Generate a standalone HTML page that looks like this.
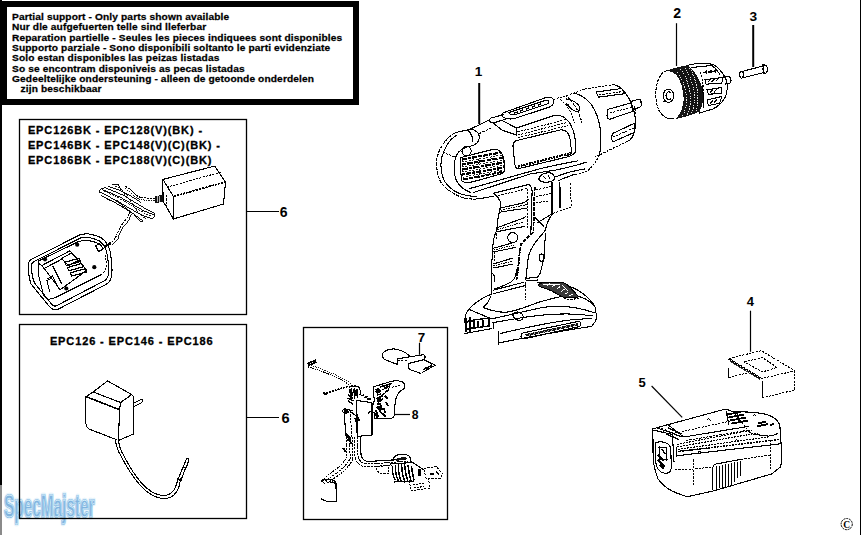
<!DOCTYPE html>
<html><head><meta charset="utf-8">
<style>
html,body{margin:0;padding:0;background:#fff;width:861px;height:535px;overflow:hidden}
svg{display:block}
text{font-family:"Liberation Sans",sans-serif;font-weight:bold;fill:#000}
.t1{font-size:9.6px;letter-spacing:0.12px;stroke:#000;stroke-width:0.25px}
.t2{font-size:11px;letter-spacing:0.88px;stroke:#000;stroke-width:0.3px}
.lb{font-size:12.5px}
.k{fill:none;stroke:#000;stroke-width:1.1;stroke-linejoin:round;stroke-linecap:round}
.kd{fill:none;stroke:#000;stroke-width:1;stroke-dasharray:2.2 1.2}
.k2{fill:none;stroke:#000;stroke-width:1.6;stroke-linejoin:round;stroke-linecap:round}
.f{fill:#fff;stroke:#000;stroke-width:1.1;stroke-linejoin:round}
.dk{fill:#222;stroke:#000;stroke-width:1}
</style></head><body>
<svg width="861" height="535" viewBox="0 0 861 535">
<!-- left edge line -->
<rect x="0" y="0" width="2" height="485" fill="#000"/>
<rect x="0" y="485" width="2" height="50" fill="#8a8a8a"/>
<rect x="860" y="0" width="1" height="535" fill="#000"/>
<!-- watermark -->
<g style="font-size:31px;font-weight:bold;letter-spacing:0;opacity:0.9">
<text x="4" y="517.3" textLength="90.5" lengthAdjust="spacingAndGlyphs" style="fill:none;stroke:#e3f2fb;stroke-width:4.5;stroke-linejoin:round">SpecMajster</text>
<text x="4" y="517.3" textLength="90.5" lengthAdjust="spacingAndGlyphs" style="fill:#74acdc;stroke:#74acdc;stroke-width:2;stroke-linejoin:round">SpecMajster</text>
<text x="4" y="517.3" textLength="90.5" lengthAdjust="spacingAndGlyphs" style="fill:none;stroke:#d8f1fc;stroke-width:0.8">SpecMajster</text>
</g>
<!-- top notice box -->
<rect x="0" y="1" width="359" height="104" fill="#000"/>
<rect x="7" y="7" width="346" height="92" fill="#fff"/>
<g class="t1" transform="scale(1.06,1)">
<text x="11.32" y="19.9">Partial support - Only parts shown available</text>
<text x="11.32" y="30.3">Nur dle aufgefuerten telle sind lleferbar</text>
<text x="11.32" y="40.6">Reparation partielle - Seules les pieces indiquees sont disponibles</text>
<text x="11.32" y="51.0">Supporto parziale - Sono disponibili soltanto le parti evidenziate</text>
<text x="11.32" y="61.3">Solo estan disponibles las peizas listadas</text>
<text x="11.32" y="71.7">So se encontram disponiveis as pecas listadas</text>
<text x="11.32" y="82.0">Gedeeltelijke ondersteuning - alleen de getoonde onderdelen</text>
<text x="19.43" y="92.4">zijn beschikbaar</text>
</g>
<!-- box 2 -->
<rect x="19.5" y="119.5" width="227" height="195" fill="none" stroke="#000" stroke-width="1.3"/>
<g class="t2">
<text x="27.9" y="133.5">EPC126BK - EPC128(V)(BK) -</text>
<text x="27.9" y="148.5">EPC146BK - EPC148(V)(C)(BK) -</text>
<text x="27.9" y="163.5">EPC186BK - EPC188(V)(C)(BK)</text>
</g>
<!-- box 3 -->
<rect x="19.5" y="324.5" width="227" height="194" fill="none" stroke="#000" stroke-width="1.3"/>
<text class="t2" x="49.9" y="344.6">EPC126 - EPC146 - EPC186</text>
<!-- wiring box -->
<rect x="303.5" y="327.5" width="144" height="192" fill="none" stroke="#000" stroke-width="1.3"/>
<!-- leaders -->
<g stroke="#000" stroke-width="1.2" fill="none">
<line x1="246.5" y1="211.5" x2="279" y2="211.5"/>
<line x1="246.5" y1="417.5" x2="279" y2="417.5"/>
<line x1="479.2" y1="83" x2="479.2" y2="124" stroke-width="2"/>
<line x1="676.5" y1="23.2" x2="676.5" y2="66"/>
<line x1="753.2" y1="25" x2="753.2" y2="67" stroke-width="2"/>
<line x1="419.5" y1="342.7" x2="419.5" y2="354.8"/>
<line x1="394.3" y1="414.5" x2="410" y2="414.5"/>
<line x1="750.5" y1="310.7" x2="750.5" y2="351.8"/>
<line x1="651.6" y1="386" x2="682.2" y2="417.4"/>
</g>
<g style="text-anchor:middle">
<text x="283.6" y="217.4" font-size="14">6</text>
<text x="285.6" y="422.8" font-size="14.6">6</text>
<text x="478.6" y="75.7" font-size="13.6">1</text>
<text x="677.1" y="17.7" font-size="14.1">2</text>
<text x="753.2" y="20.9" font-size="13.7">3</text>
<text x="750.3" y="305.6" font-size="13">4</text>
<text x="642" y="386.8" font-size="13">5</text>
<text x="421.6" y="341.7" font-size="13.4">7</text>
<text x="415.1" y="418.8" font-size="12.2">8</text>
</g>
<!-- copyright -->
<circle cx="846.7" cy="524.1" r="5.6" fill="none" stroke="#000" stroke-width="1" stroke-dasharray="2 0.8"/>
<text x="843.2" y="527.8" style="font-size:9.5px;font-weight:bold;font-family:'Liberation Serif',serif">C</text>

<!-- DRAWINGS -->
<g id="drawings" shape-rendering="crispEdges">
<g id="drill">
<!-- rear cap outer -->
<path d="M455,133 C447,137 439.5,147 437,158 C435.8,168 437.5,177 442,184 C447,190 456,196 466,198.5 L476,199.5" fill="none" stroke="#000" stroke-width="1.1" stroke-dasharray="3.5 1"/>
<path class="k" d="M456,135.5 C450,139 444.5,148 441.5,158 C440,168 441.5,176 445,182 C450,189 458,194 466.4,195.4 L477,196.9"/>
<!-- ring top band -->
<path class="k" d="M456,132.5 L470,129.3 C476,129.5 479.5,133 479.3,137.5 C479,142 476,145 471,146 C465,147 459.5,150 456.5,155 C453.5,162 453.5,172 455.5,178.5 C458,185 463,189.5 470.5,192.5"/>
<path class="k" d="M467.5,130 C471,133 473,137 473,142"/>
<path class="kd" d="M443,152.4 L455,157"/>
<!-- bulb -->
<circle class="k" cx="466.6" cy="151.2" r="4.6"/>
<!-- body top lines -->
<path class="k" d="M470,129.3 L489.6,119.8"/>
<path class="kd" d="M479.5,133.5 L492,127.5"/>
<!-- platform -->
<path class="k" d="M489.6,119.8 C489,121.5 490.5,122.5 492,122.2 L502.4,130.3 L516.4,135 L516.4,128 L554.7,115.2"/>
<path class="k" d="M489.6,119.8 C490,118 492,117.5 494,117.3 L503.6,114.6"/>
<path class="k" d="M494,122.8 L506,119 M516.4,128 L503,121"/>
<!-- top switch rounded rect -->
<path class="k" d="M504,112.5 L546,97.5 C551,96 555,98.5 553.5,103 C552.5,106 550,107 548,107.6 L515,118.3 C510,119.8 503,118.5 502,115.5 C501.6,114 502.5,113 504,112.5 Z"/>
<path class="k" d="M509,112.5 L545,100.5 C548,99.8 550,101.5 548.5,103.6 L516,114.3 C512,115.2 508.5,114.2 509,112.5 Z"/>
<path d="M520,111 l3,-1 M526,109 l3,-1 M532,107 l3,-1 M538,105 l3,-1 M514,113 l4,-1" stroke="#000" stroke-width="1.6"/>
<!-- body top line to collar -->
<path class="kd" d="M553.5,99.5 L573,93.5 L585,89"/>
<!-- window (side recess) -->
<path class="k" d="M554.7,115.2 C560,114.5 565,117 569,122 C572.5,127 574.5,134 575.5,141 C576,146 575.5,150 575,153 C573,155 571,156 567,157 L519,168.5 C516.5,169 515,167 514.8,164 L513,146 C513,143 514.5,141 517,140.5"/>
<path class="kd" d="M517.5,132 L566,119.5 M518,135 L567,122.5 M518,137.8 L568,125.5"/>
<path class="k" d="M517,140.5 L560,130 C566,129 569,133 570,139 L571.5,151 C571.5,154 569.5,155 567,155.5"/>
<path d="M518,166.5 L572,153" stroke="#000" stroke-width="2.2" stroke-dasharray="2 0.8" fill="none"/>
<!-- grille -->
<path class="k" d="M460.5,157.6 C470,155.5 485,151 494.5,149.2 C498,149 500.5,151 502.5,155 C504.5,160 505,166 504.6,170.2 C504,172 503,173 502.1,173.6 C492,176.5 480,180 471.8,182 C466,183 463,182.5 461.5,180.5 C460.5,172 460.3,164 460.5,157.6 Z"/>
<g stroke="#000" fill="none">
<path d="M462,159.5 L501,152.5" stroke-width="2.2" stroke-dasharray="5 1.5 3 1"/>
<path d="M462,164.5 L503.5,157.5" stroke-width="2.2" stroke-dasharray="4 1 6 1.5"/>
<path d="M462,169.5 L504,162.5" stroke-width="2.2" stroke-dasharray="6 1.5 3 1"/>
<path d="M462,174.5 L504,167.5" stroke-width="2.2" stroke-dasharray="3 1 5 1.5"/>
<path d="M463,179.5 L502,172" stroke-width="2" stroke-dasharray="5 1.5 4 1"/>
</g>
<g stroke="#000" stroke-width="0.9" fill="none" stroke-dasharray="2 1.5">
<path d="M462,162 L502,155"/>
<path d="M462,167 L503.5,160"/>
<path d="M462,172 L504,165"/>
<path d="M462.5,177 L503,170"/>
</g>
<path d="M478,152 L480,181" stroke="#000" stroke-width="1" stroke-dasharray="2 1.5"/>
<!-- body bottom lines -->
<path class="k" d="M470,188.5 L540,168.7 C552,166 565,163 577.6,160.9"/>
<path class="k" d="M473.5,192.5 L530,174 L556,170 C565,168 575,166 587,162"/>

<path class="k" d="M476,199 C482,198.5 488,197.5 494,196"/>
<!-- collar -->
<path class="k" d="M573,93 C580,94 586,98 591,104 C596,111 599,120 600.5,130 C601.5,140 601,148 599.5,155"/>
<path class="kd" d="M560.5,99.5 C568,106 572,113 574.5,123 M582,123 C579,111 573,101 566,96"/>
<path class="kd" d="M585,89 L613.7,84.6"/>
<path class="k" d="M613.7,84.6 C618,85.5 622,88 625.5,93 C630,99 633.5,107 635,116 C636,125 635,132 632.5,137 C631,139.5 629,141 626.8,141.5"/>
<path class="kd" d="M626.8,141.5 L595.4,157"/>
<path class="kd" d="M599.5,155 C597,160 594,165 588,170.5 C583,173 578,174 572,175"/>
<!-- collar slots -->
<path class="k" d="M596,92 L621.6,88.5 L624.5,93.7 L598.5,97.2 Z"/>
<path class="k" d="M607.8,109.4 L630.7,103 L633.3,111.2 L609.8,119.2 C608,119.5 607,117 607,115 Z"/>
<path class="k" d="M612.4,133.6 L634.6,123.2 L634.6,132.3 L613.7,141.5 C612,141.5 611.5,139 611.8,137 Z"/>
<path class="kd" d="M599,95 L623,91.5 M610,113 L632,107 M613,137 L634,128"/>
<!-- spindle -->
<path class="k" d="M630.5,101.5 L638.5,99.3 C640,99.3 641,100 641,101.5 L641.2,105.5 C641,106.8 640,107.3 639,107.5 L633.5,109.3"/>
<path class="kd" d="M634.6,105.6 C635.5,113 636,121 636,128.6"/>
<!-- small fwd/rev button -->
<path class="k" d="M566,99 C570,99 575,101.5 578.5,105 C580.5,107.5 580,111 577.5,111.5 C574,111.5 571,109 568.5,106"/>
<path d="M566,104 l3,2" stroke="#000" stroke-width="2"/>
</g>
<g id="handle">
<!-- body under-lines toward handle -->

<!-- handle front edge -->
<path class="k" d="M492.9,193.1 C495,194.5 497,196 498.1,197.7 C499.8,200 500.7,202 500.7,204.3 L500,209.5 L498.1,217.4 L496.8,230.4 L494.4,236 L493.1,243.1 L491.8,262.7 L491.1,282.4 L491.8,294.1"/>
<path class="kd" d="M497,230 L496,240 M494.5,252 L494,262"/>
<!-- grip top edge & back -->
<path class="k" d="M494.2,193.1 L528.2,184.6 C530,184.5 531.5,186 532.1,191.2 L531.5,212 L530.8,235"/>
<path class="kd" d="M498.1,195.8 L527.5,188.5 L528,230"/>
<!-- thick dark back line -->
<path d="M534.7,187.3 L533.8,215 L533.4,232 C530,236 525,239 522,243.5 C520,247 519.5,252 519.3,258 L518,270 L516.5,279.7" fill="none" stroke="#000" stroke-width="1.8" stroke-dasharray="4 1"/>
<path class="kd" d="M520.6,243.1 C519,255 518,268 516.6,275"/>
<!-- grip rounded bottom -->
<path class="k" d="M516.6,269.3 C516,276 515,279 511,282 C505,285.5 499,287.5 494.4,288.9"/>
<path class="k" d="M493.1,290.2 L523.2,282.4 M493,293.8 L525.5,285.5"/>
<!-- ribs -->
<path class="k" d="M499.4,208.2 C507,206.5 518,204.5 524,202.5 C526,201.5 527.5,200.5 528.2,199.5"/>
<path class="k" d="M500.7,212.1 C509,210.5 518,209.5 526.9,208.2"/>
<path d="M501,210.2 L527,204.5" stroke="#000" stroke-width="1" stroke-dasharray="1.5 1"/>
<path class="k" d="M496.8,227.8 C505,225 515,221 521,219 C523,218.5 525,217.5 525.6,216.4"/>
<path class="k" d="M496.8,231.8 C506,230 515,228 524.3,226.5"/>
<path d="M497.5,229.8 L524.5,221.5" stroke="#000" stroke-width="1" stroke-dasharray="1.5 1"/>
<path class="k" d="M493.1,248.3 C500,246.5 508,244 514,242.5"/>
<path class="k" d="M493.7,251.9 C501,250.5 508,249 515,247.5"/>
<path d="M494,250 L514,245" stroke="#000" stroke-width="1" stroke-dasharray="1.5 1"/>
<path class="k" d="M493.1,264 C499,262.5 506,260 512.7,258.1"/>
<path class="k" d="M493.1,268 C499,267 506,265.5 513,264"/>
<path d="M493.5,266 L512.5,261" stroke="#000" stroke-width="1" stroke-dasharray="1.5 1"/>
<circle class="k" cx="512.7" cy="237.6" r="5"/>
<path class="k" d="M492,273 C494,274 495,277 494.5,281"/>
<!-- upper handle right part -->
<path d="M551.8,182 L551.8,214.7 M559.6,182 L560.3,208.2" stroke="#000" stroke-width="1.6" fill="none"/>
<path class="kd" d="M570.1,183.3 L571.4,206.9 L553,213.4"/>
<path class="kd" d="M536,189.9 L551.8,186 M536,196.4 L551.8,193.5 M536,202.3 L550,201.5"/>
<path class="k" d="M534.7,217.4 L543.9,226.5 M537.4,222.6 L553,213.4"/>
<path class="k" d="M555.7,176.8 C565,173 575,170.5 585,168.9 M558.3,180.7 C564,178 570,176 575.3,174.2"/>
<!-- trigger lock -->
<path class="k" d="M539,178 C540,174.5 545,172.5 550,172.9 C553.5,173.5 555,176 554.4,179 C553,181.5 548,182.5 543,182 C540,181.5 538.5,180 539,178 Z"/>
<path d="M543,176 l3,3 M548,175 l2,4" stroke="#000" stroke-width="1.2"/>
<!-- rear handle -->
<path class="k" d="M553,213.4 C550,217 547,222 545.4,230 C541,236 535,242 532.4,247 C530,251 528.4,256.2 528.4,256.2 L525.8,279.7"/>
<path class="k" d="M545.4,233.9 L544.1,256.2 C543,263 541.5,268 540.2,273.2 L537.6,277.1"/>
<path class="k" d="M539.5,255 C540.5,253.5 543,253.5 544,256 C544.5,258.5 543.5,261 541.5,261.4 C539.5,261.5 538.7,259 539.5,255"/>
<path class="k" d="M525.8,278.4 L537.6,277.1 M525.8,281 L538,280"/>
<path class="kd" d="M525.8,282.4 L525.8,300"/>
<!-- base -->
<path class="k" d="M491.6,294 C486,296 481,299 477,302 C472,305.5 468,309 465.5,315 C464.5,320 465,326 467,331"/>
<path class="k" d="M491,296 C489,301 487,304.5 483.5,307.2"/>
<path class="k" d="M484.3,308 C490,310 498,312.5 506.2,312.2 C518,311 530,305 540,301.9 C550,299 560,296 572,295 C582,296 590,301 595,307"/>
<path class="k" d="M538,282.5 C548,283 557,284 566.6,285.5 C575,288 582,292 587,297 C591,301 594,304 595,307 L596.8,317.5 C596,321 594,324 591.5,326.4"/>
<path class="k" d="M468.5,309.2 L491.6,318.9 L540,308 C555,305 575,306 595,313"/>
<path class="k" d="M492.8,322.6 L520,318 C545,314 570,312 593,316"/>
<path class="k" d="M493.4,322.6 L493.4,328.6 M464.9,333.5 L491.6,328.6"/>
<path class="k" d="M500.1,333.5 C520,329 545,323 570,320 C580,319 587,319 592,318"/>
<path class="k" d="M498.9,331 L498.9,345 M499,342.8 C530,337 560,331 591.5,326.4"/>
<path class="k" d="M512.5,314 C515,311 520,311.5 522.5,314.5 C524,317 523,320 520,320.5 C516.5,320.5 513,318 512.5,314 Z"/>
<!-- left foot blocks -->
<path d="M466,318 L466,332 M470,317 L470,332 M474,320 L489,318 L489,326 L474,328 Z M478,321 L478,327 M483,320 L483,327" fill="none" stroke="#000" stroke-width="1.4"/>
<path d="M466,322 L475,320 M467,329 L473,328" stroke="#000" stroke-width="2"/>
<!-- vent slot -->
<path class="k" d="M523.5,332.8 L578,321.5 C581,321.2 582,324.5 579.5,326.5 L525.5,338.5 C522,339.3 520.5,336.8 521.2,335 C521.6,333.8 522.5,333 523.5,332.8 Z"/>
<path d="M525,334.2 L577.5,323.2 L578.5,325.4 L526,336.6 Z" fill="#111"/>
<path d="M529,336 l1.5,-2.6 M533.5,335 l1.5,-2.6 M538,334 l1.5,-2.6 M542.5,333.1 l1.5,-2.6 M547,332.1 l1.5,-2.6 M551.5,331.2 l1.5,-2.6 M556,330.2 l1.5,-2.6 M560.5,329.3 l1.5,-2.6 M565,328.3 l1.5,-2.6 M569.5,327.4 l1.5,-2.6 M574,326.4 l1.5,-2.6" stroke="#fff" stroke-width="0.7"/>
<!-- release button -->
<path d="M538.5,284.5 C541,283 544,282 546.3,282.2 L562.5,282.2 C566,283.5 568.5,285.5 570.7,287.9 L578.8,296.8 C575,297.8 570,297.8 564.1,297.6 L550.3,290.3 C546,288.5 542,287.5 539,286.3 Z" fill="#3a3a3a" stroke="#000" stroke-width="1"/>
<path d="M547,285.5 l3,-2 M552,287 l3,-2.5 M557,289 l3,-2.5 M561.5,291.5 l3,-2.5 M565.5,294 l3,-2.5 M569.5,296 l3,-2 M543,284.8 l17,-0.5 M562,285 l6,6" stroke="#fff" stroke-width="1"/>
<path class="kd" d="M564,297.6 C566,299.5 570,300.5 578.8,298"/>
</g>
<g id="charger">
<!-- brick -->
<path class="k" d="M162.9,179.4 L214.6,166.1 L225.5,181.9 L223.5,204 L173.4,219 L163,201 Z"/>
<path class="k" d="M173.4,219 L173.4,196.5 M162.9,179.4 L173.4,196.5"/>
<path d="M173.4,196.5 L225.5,181.9" stroke="#000" stroke-width="1.7" stroke-dasharray="2.5 0.8" fill="none"/>
<path class="kd" d="M166.5,187.3 L220.6,172.2"/>
<path class="kd" d="M166.5,195 L166.5,208.6"/>
<!-- plug -->
<path d="M154.5,196 L163,195 L163.5,202 L155,203 Z" fill="#111"/>
<path d="M157,196 l0,6 M159.5,195.5 l0,6" stroke="#fff" stroke-width="0.7"/>
<!-- cord top -->
<path d="M125.5,186.5 C129,188 131,190 132.5,191.5 C135,194.5 137.5,196.5 140.5,197.3 C145,198.2 150,198.2 155,198.2" stroke="#000" stroke-width="1" fill="none" stroke-dasharray="2 0.8"/>
<path d="M124.5,188.5 C128,190 130,192 131.5,193.5 C134,196.5 137,198.8 140.5,199.6 C145,200.4 150,200.3 155,200.3" stroke="#000" stroke-width="0.9" fill="none" stroke-dasharray="1.5 1"/>
<!-- coil bundle -->
<g stroke="#000" stroke-width="0.95" fill="none">
<path d="M100,192 C110,197 122,204 136,212 C142,215.5 147,217.5 152,218.5"/>
<path d="M101,195.5 C111,200 121,206 133,213.5 C138,217 141,219.5 143,221"/>
<path d="M102,189.5 C112,193 124,199 138,207.5 C144,211 149,213.5 154,214.5"/>
<path d="M104,187.5 C114,190.5 126,196.5 140,205.5 C146,209 150,211 153.5,212.5"/>
<path d="M106,198.5 C115,202 123,207 131,212.5 C134.5,215.5 137,218.5 139.5,221"/>
<path d="M108,186.5 C117,188.5 127,193 141,202.5"/>
<path d="M99.5,193 C99,190.5 101,188.5 104,188"/>
<path d="M152,218.5 C155,218 155,214.5 153.5,212.5"/>
<path d="M139.5,221 C141.5,222 143.5,221.5 143,221"/>
<path d="M112,185 L118,184 L121,190 M118,184 C120,189 124,193 128,196"/>
<path d="M113,199 C118,202 124,206 129.5,211"/>
</g>
<g stroke="#000" stroke-width="0.9" fill="none" stroke-dasharray="2 1">
<path d="M104,191 C115,196 127,202 140,210.5 C145,213.5 149,215.5 152,216.5"/>
<path d="M115,186 C122,190 128,197 133,205 C136,210 140,215 146,219"/>
</g>
<!-- cord down to cradle -->
<path d="M130.2,211.8 C129,214 128,216 127.4,217.4 C125.5,220 123.5,222.5 121.8,224.9 C119,229 117.5,233 116,236.5 C114,240 112.5,242 110.5,243.5" stroke="#000" stroke-width="1" fill="none" stroke-dasharray="2 0.8"/>
<path d="M132,212.5 C131,215 130,217 129.2,218.5 C127.5,221 125.5,223.5 123.8,226 C121,230 119.5,234 118,237.5 C116,241 114.5,243 112,245" stroke="#000" stroke-width="0.9" fill="none"/>
<path d="M104,247 L111,243" stroke="#000" stroke-width="2.5"/>
<!-- cradle -->
<path class="k" d="M28.3,264 C28.5,261.5 30,260 33,258.5 L79.6,235 C83,233.8 86,233.6 89,234 C94,235 98,236 101.3,237.8 C105,240.5 108,244.5 109.4,248.6 C111,254 111.8,262 112,270 C112,276 111,280 108.5,282.5 C107,284 105.5,284.8 104,285.5 L57.9,309.3 C55,310.3 52.5,310 49.8,307 L31,284 C29.5,280 28.3,272 28.3,264 Z"/>
<path class="k" d="M31.5,265 C31.7,263 33,262 35.5,260.8 L80,238.2 C83,237.2 86,237 88.5,237.4 C93,238.3 96.5,239.5 99.3,241 C102.5,243.5 105,247 106.2,250.5 C107.8,256 108.5,263 108.7,270 C108.7,274.5 108,277.5 106,279.5 C105,280.5 103.5,281.3 102,282 L57,305.5 C55,306.5 53.5,306.3 52,304.5 L34.5,283 C32.8,279 31.5,272 31.5,265 Z"/>
<path class="k" d="M38.4,261 L78.7,241.5 C86,239.5 94,241 98.6,243.8"/>
<path class="k" d="M101.7,274.5 L55.7,297.5 C52,299 50,299.5 48,299 C45.5,298 44,296.5 43.4,294.4 L38.8,276 C38,271 37.8,266 38.4,261"/>
<path class="kd" d="M104.8,254.5 C106,259 106.5,263 106.3,266.8 C105.5,270 104,272.5 101.7,274.5"/>
<!-- pocket -->
<path class="k" d="M42,265.4 L70,250.8 L87,270.2 L60.2,289.7 Z"/>
<path class="k" d="M38.4,261 L38.4,263.5 L42,265.4"/>
<path class="k" d="M43.2,269 L61.5,259.3 M53,266.6 L61.5,283.6 M47,279 L52.5,276 L59,289"/>
<path class="k" d="M46.9,280.5 L49.5,291 M46.9,280.5 L51,278.6"/>
<path class="k" d="M61.5,258.5 L71.2,253.2 L78.5,260.5 L68.5,265.5 Z"/>
<g fill="none" stroke="#000" stroke-width="1.2" stroke-linejoin="round">
<path d="M64.8,262.2 L79,258.3 L80.5,261.5 L66.3,265.5 Z"/>
<path d="M67.3,267.5 L81.8,263.5 L83.3,266.8 L68.8,270.8 Z"/>
<path d="M70.3,272.8 L85,268.8 L86.5,272 L71.8,276 Z"/>
</g>
<!-- screws -->
<g fill="#000" shape-rendering="auto"><circle cx="45" cy="259.3" r="2.1"/><circle cx="77.2" cy="244.7" r="2.1"/><circle cx="94.3" cy="267.2" r="2.1"/><circle cx="66.3" cy="288.5" r="2.1"/></g>
<!-- cord entry -->
<path class="k" d="M95.6,245.5 L100,243.8 L103.2,249 L98.5,251.5 Z"/>
</g>
<g id="adapter">
<path class="k" d="M93.1,392 L107.5,380.9 L131.7,394.6 L120.6,402.5 Z"/>
<path class="k" d="M85.9,396.6 L93.1,392 M120.6,402.5 L119.5,409.7"/>
<path d="M85.9,396.6 L119.5,409.7" stroke="#000" stroke-width="1.6" fill="none"/>
<path class="k" d="M85.9,396.6 L85.9,423.4 C86,426 87.5,428 89.5,429.2 L116,439.5 M119.5,409.7 L118.5,439.5"/>
<path class="k" d="M131.7,394.6 C132.8,395.5 133.6,397 133.6,398.5 L133.8,433.9 L118.5,440.5"/>
<path class="k" d="M133.6,403.1 L141.5,399.2 C142.5,399.5 142.6,401.5 141.8,402.5 L134.3,406.4"/>
<path class="k" d="M115.5,439.5 C116,446 118,451 121,456 C126,466 132,476 140,485 C146,492 153,497 162,498.5 C168,499 173,497 176.5,492 C179,488 180,484 180.5,478.5"/>
<path class="k" d="M118.5,440 C119,446 121,451 124,456 C129,466 135,476 142.5,484 C148,490 154,494.5 162,495.5 C167.5,496 171,494 174,490 C176.5,486 177.5,482 178,478"/>
<path class="k" d="M178,479.5 L183,467 L185.5,468 L181,480.5 Z M183.5,466.5 L186.5,459 C187.5,458 189,458.5 189,460 L186,468"/>
</g>
<g id="wiring">
<!-- part 7 -->
<path class="k" d="M382.7,353.4 C385,350.5 389,349 393.7,348.9 C399,349.5 405,352 409.1,355.4"/>
<path class="k" d="M382.7,353.4 L383.1,358.7 L397,364.4"/>
<path class="k" d="M397.8,358.7 L423.8,354.6 C425,355.5 425.2,358 424.6,359.5 L408.3,363.6 M397.8,358.7 L397,363.6"/>
<path class="kd" d="M397.8,361 L408.5,360"/>
<path class="k" d="M408.3,363.6 L409.1,369.3 L420.5,373.3 M424.6,360 L435.2,365.2 L422.2,372.5"/>
<path d="M424,370 l2,-3 M427,369 l2,-3 M430,367.5 l2,-3" stroke="#000" stroke-width="1.5"/>
<!-- wire 1 -->
<path d="M307.5,363.5 L316,360 M308,365.5 L316.5,362" stroke="#000" stroke-width="1.7"/>
<path d="M307.9,366.9 C322,371 336,376 349.4,384.9" stroke="#000" stroke-width="1.1" stroke-dasharray="1.5 0.8" fill="none"/>
<path d="M308.5,364.8 C323,369 337,374.5 351,383.5" stroke="#000" stroke-width="0.9" stroke-dasharray="1.2 1.2" fill="none"/>
<!-- wire 2 -->
<path d="M323.6,393.9 L347.1,386.6 L356.1,386" stroke="#000" stroke-width="1.6" stroke-dasharray="2 0.9" fill="none"/>
<path d="M323.5,392.5 l3,2.5" stroke="#000" stroke-width="1.8"/>
<!-- switch top -->
<path class="k" d="M349,387 L358,386.5 C360,388 360.5,392 360,395"/>
<path d="M351,389 L351,399 M354,388.5 L354.5,399 M357,389 L357.5,398" stroke="#000" stroke-width="1.4"/>
<path d="M348,395 l5,3 M347.5,398 l6,3 M348,401 l5,3 M360.8,396 l3,-1 M364,397.5 l4,-1 M367,399 l4,0" stroke="#000" stroke-width="1.4"/>
<!-- switch front face -->
<path class="k" d="M356.3,400.4 L372,402.7 L372,435.2 L357.4,436.3"/>
<path d="M356.3,400.4 L357.4,436.3" stroke="#000" stroke-width="1.6" fill="none"/>
<!-- switch left -->
<path class="k" d="M342.9,411.5 C342.5,409.5 344,408.5 346,409 L353,411"/>
<path class="k" d="M344,412 L346.2,438"/>
<path class="kd" d="M350,411 L352,438"/>
<path d="M352,412 l2,3 M356,415 l2,3 M355,418 l1,4 M358,419 l2,2 M346,433 l2,3 M347,437 l3,0" stroke="#000" stroke-width="1.6"/>
<!-- trigger -->
<path class="k" d="M373.1,387 L391,381.4 C396,380.5 401,380.5 403.5,382.5 C405,384.5 404.8,387 404,388.5 C400,391 397.5,394 396.5,397 C395,401 394.5,406 394.5,414.5 C394,417 392.5,418.3 390.5,418.4 L376,418.6"/>
<path class="k" d="M373.1,387 L374.3,400.4 L371,412"/>
<path class="k" d="M368.8,414 C368.5,411.5 370.5,411 372.5,411.5 C374.5,412.5 375.5,415 374.5,418"/>
<path class="kd" d="M375,391.5 L401,385"/>
<path d="M380,387 L392,383.5 M385,392 l4,-2 M377,395 l4,-1 M379,398 l3,-2 L384,393 M380,401 l3,-2 M377,404 l4,0 M377,407 l3,3 M380,411 l3,4 M384,408 l1,5 M376,410 l1,5" stroke="#000" stroke-width="1.6" fill="none"/>
<!-- wires down-left -->
<path d="M346,437 L347,457 C344,463 338,468 330,473.5 C326,476.5 324,479 322.5,481" stroke="#000" stroke-width="1" stroke-dasharray="2 0.8" fill="none"/>
<path d="M349,437 L350.3,458 C347,465 341,470 333,475.5 C329,478 327,480 325.5,482" stroke="#000" stroke-width="1" stroke-dasharray="2 0.8" fill="none"/>
<path d="M352,437 L353,458.5 C350,466 344,471.5 336,477 C332,479.5 330,481 328.5,483" stroke="#000" stroke-width="1" stroke-dasharray="2 0.8" fill="none"/>
<!-- terminal cylinder -->
<path class="k" d="M321.4,481 C322,479 326,479 330,479.5 C333,480 335.5,481 336,483 L336.2,501.5 C333,502 326,502 321.5,499"/>
<path d="M322,481 l3,3 M325.5,480.5 l3,3 M329,481 l3,2 M332,482 l3,1" stroke="#000" stroke-width="1.3"/>
<!-- wires right -->
<path d="M357.5,436.5 L358,455 C359,461 362,463.5 367,464 L392,462.5 L408,461" stroke="#000" stroke-width="1" stroke-dasharray="2.5 0.8" fill="none"/>
<path class="k" d="M360.5,436.5 L361,455 C362,459.5 364,461 368,461.5 L392,460 L406,459"/>
<path class="kd" d="M354.5,437 L355,456 C356,463 360,466.5 366,467 L392,465.5"/>
<!-- terminal block -->
<path class="k" d="M393.4,460 C393.5,456 397,454.3 402,454.3 C406,454.3 409.5,455.5 410.2,458 L410.2,461"/>
<path d="M395,459 L405,456.5 L407,459 L396,461 Z" fill="#111"/>
<path class="kd" d="M376.5,466.5 L379,465.5 L389,466 L388.7,474 L381,473.5 C378,472.5 376.5,470 376.5,466.5 Z"/>
<path class="k" d="M410.2,460.9 L424.2,470.2"/>
<g stroke="#000" stroke-width="1.5" fill="none">
<path d="M392.5,466 C392,471 393,476 395,480 M395.5,465 C395,470 396,476 398.5,481.5 M398.5,464.5 C398,470 399,476 401.5,482 M401.5,464 C401.5,470 402.5,476 405,482.5 M404.5,464.5 C405,470 406,476 408,482 M408,465 C408.5,470 409.5,476 411,481.5 M411.5,466 C412,471 413,476 414,480"/>
</g>
<path class="k" d="M390,464 L413,462.5 M394,482 L414,481"/>
<path class="kd" d="M424.2,468.4 L436,466.5 L442.9,474 L440,478.6 L426,478 L424.2,470"/>
<path d="M430,474 l4,0 M436,472 l3,2" stroke="#000" stroke-width="1.4"/>
<path class="kd" d="M409.3,480.5 L411,490.8 L429.8,488 L428.5,478.5"/>
<path d="M413,485 l12,-2 M414,488 l10,-1.5" stroke="#000" stroke-width="1.1" stroke-dasharray="2 1"/>
<path d="M418,469 L421,469 L421,476 L418,476 Z" fill="#000"/>
<!-- extra dark detail -->
<path d="M375,389 L379,388 L381,392 L377,394 Z M376,398 L380,396 L382,401 L378,403 Z M378,406 L382,405 L383,410 L379,411 Z M375,413 L378,412 L379,417 L376,418 Z" fill="#000"/>
<path d="M384,388 L390,386 M385,396 l3,3 M386,402 l2,4 M383,414 l3,3" stroke="#000" stroke-width="1.8"/>
<path d="M349,389 L352,388 L353,396 L350,397 Z M355,390 L358,389 L358.5,395 L355.5,396 Z" fill="#000"/>
<path d="M343.5,409 L348,408.5 L349,413 L345,414 Z" fill="#000"/>
<path d="M347,440 L350,438 L351,444 M343,448 L346,452" stroke="#000" stroke-width="1.8"/>
</g>
<g id="chuck">
<!-- front face -->
<path d="M666.8,70.7 C661,72 657,80 656,90 C655.2,100 657,110 662.4,115 C666,118.5 670,119.5 674,118.5" fill="none" stroke="#000" stroke-width="1.1" stroke-dasharray="3 1"/>
<!-- hole -->
<ellipse class="k" cx="668.5" cy="95.8" rx="5.3" ry="6.6"/>
<path class="k" d="M670.7,92.5 C668.5,91 666,92.5 666,95.8 C666,99 668.5,100.5 670.7,99"/>
<path d="M664,91 l1,-1 M663.5,101 l1,1.5" stroke="#000" stroke-width="1.2"/>
<!-- knurl band -->
<path d="M666.8,70.7 C672,68.5 680,66.5 688,65.2 C695,71 700,79 702,88 C704,98 703,106 699.6,111.5 C693,114.5 685,117.5 676,119 C681,113 683.5,106 683.7,99 C683.5,90 681,81 676.5,75 C674,72.5 670,71 666.8,70.7 Z" fill="#141414"/>
<g stroke="#fff" stroke-width="0.9" fill="none" stroke-dasharray="1.3 1.3">
<path d="M676,70.5 C682,77 686,88 686.5,99 C686.5,106 685,112 682,117"/>
<path d="M680.5,69 C686,76 690,87 690.5,98 C690.5,106 689,111 686.5,116"/>
<path d="M685,67.5 C690,75 694,86 694.5,97 C694.5,105 693,110 691,114.5"/>
<path d="M689.5,67.5 C694,75 697.5,86 698,96 C698,104 697,109 695.5,113"/>
</g>
<!-- rear body -->
<path class="k" d="M688,65.2 L697,63.4 L710.6,64 C713.5,64.5 715.8,65.8 717.3,67.3 C720,70 722,72 723.5,74.5 C725.5,77.5 727,81 727.2,85 C727.4,90 726.5,96 723.5,100 C721.5,103 718,106.5 712.8,109 L699.6,113"/>
<path class="k" d="M691.5,67.5 L712,65.5 C715,67.5 718,71 719.5,74"/>
<path d="M704,72.5 l2.5,-1.5 l0,2 Z M708.5,72 l2.5,-1.5 l0,2 Z M713,71.5 l2.5,-1.5 l0,2 Z" fill="#000" stroke="#000" stroke-width="1"/>
<path class="k" d="M705,79.7 L723,77.4 L721.8,83 L706,84.2 Z"/>
<path class="k" d="M707,89.8 L721.8,87.5 L721.8,93.2 L708.4,94.3 Z"/>
<path class="k" d="M707,100 L721.8,96.5 L719.6,103.3 L708.4,105.5 Z"/>
<path d="M707.5,82.5 l3,-3 M711.5,82 l3,-3 M715.5,81.5 l3,-3 M710,93 l3,-4 M714,92.5 l3,-4 M710,104 l3,-4 M714,103 l3,-4" stroke="#000" stroke-width="1.1"/>
<path class="k" d="M702,85 L704,100 L703,108"/>
<path class="kd" d="M700,72 C703,80 704.5,92 703.5,106"/>
<!-- shaft -->
<path class="k" d="M723.5,77 L728.5,76.3 C730.5,76.8 731,79 731,80.5 C731,82.3 730,83.5 728.5,83.5 L725.5,84"/>
</g>
<g id="bit">
<path class="k" d="M742,71.5 L763,66 M742,78 L764,72.5"/>
<ellipse class="k" cx="741.5" cy="74.7" rx="1.8" ry="3.4"/>
<path class="k" d="M762.5,65 C765.5,64.5 767.5,66.5 767.5,69 C767.5,72 766,73.5 764,73.5 M764.5,65 C763,66.5 762.5,70 764,73.2"/>
</g>
<g id="battery">
<!-- outer silhouette -->
<path class="k" d="M652.9,428.8 L667.5,424.8 L724.4,409.3 L729.3,410.1 L732.6,411.8 C742,411.5 752,412 761.8,413.4 C768,414.5 773,416.5 776.5,419.9 C778.5,422 779.7,424 779.9,426.4 L781.3,447.5 L781.6,462.5 C781,465 780.5,466.5 780,467.4 L771.8,473.9 L713.3,491 L687.3,496.7 L677.5,493.4 C673,491.5 670,490 667.8,488.5 C663,485 660,482 658,478.8 C655.5,473 654,466 653.1,459.3 Z"/>
<!-- left end front edge -->
<path class="k" d="M652.9,430 L672.4,434.5 L674,462 M669,425.6 L683.8,437"/>
<path class="k" d="M657,428 L672.5,433"/>
<!-- left ribs on stem end -->
<path d="M668,428 L682,434 M667.5,431 L681.5,437 M666,434 L679,439.5" stroke="#000" stroke-width="1.3"/>
<path d="M660,429.5 l3,-1 M663,431 l3,-1" stroke="#000" stroke-width="1.4"/>
<!-- stem front/top -->
<path class="k" d="M683.8,437 L748.8,426.4"/>
<path class="kd" d="M675,433 L731,421 M686,440.5 L749,430"/>
<!-- stem right dark bars -->
<path d="M727,414.5 L741,412 M728.5,417.5 L744,414.5 M730,420.5 L746.5,417.5 M731.5,423.5 L748.5,420.5" stroke="#000" stroke-width="1.8"/>
<path class="k" d="M726,411 L729,425 M737,412 L739.5,422.5"/>
<!-- right cap (label area) -->
<path class="k" d="M748.8,431.3 C751,433.5 753,434.5 755,434.5 L768.3,436.1 C773,435.5 777,434 778,432.9"/>
<path class="kd" d="M733,412 C738,417 743,424 748.8,431.3"/>
<path d="M757,426.5 L768,424 M758,423.5 L766,421.5 M770,425 l4,-1" stroke="#000" stroke-width="2"/>
<path d="M753,416 a1.4,1.2 0 1 1 2.8,0.4" stroke="#000" stroke-width="1" fill="none"/>
<!-- rib band -->
<g stroke="#000" stroke-width="1.1" fill="none" stroke-dasharray="2 1">
<path d="M677.3,444.3 L752,430"/>
<path d="M677.5,446.8 L758,433"/>
<path d="M678,449.3 L768,437"/>
</g>
<path d="M678.5,451.5 L779,439.5" stroke="#000" stroke-width="1.5" stroke-dasharray="2.2 0.8"/>
<path class="k" d="M677.3,455.7 C710,452 745,447.5 778,444.3 C779.5,444 780.5,443 781,442"/>
<path class="k" d="M676.7,447.9 L676.7,456.8"/>
<!-- marks -->
<path d="M707,420 a1.6,1.3 0 1 1 3.2,0.5 M735,441 a1.6,1.3 0 1 1 3.2,0.5 M698,452.5 a1.6,1.3 0 1 1 3.2,0.5" stroke="#000" stroke-width="1" fill="none"/>
<!-- left terminal -->
<path class="k" d="M655.5,443 C658,441.5 662,441.5 666,443 C669,444 670.5,446 670.8,449 L671.3,468 C671,471 669,473 666,473.5 L662,472.5 C659,471 657,468 656,464 Z"/>
<path class="k" d="M659,447 L666,447.5 L667,460 L660,459.5 Z"/>
<path d="M658,455 L664,461 M658,460 L665,467 M660,465 l4,4 M662,449 l3,5" stroke="#000" stroke-width="1.5"/>
<!-- lower body -->
<path class="kd" d="M675,469.8 L693.8,469 L712.5,467"/>
<path class="kd" d="M693.8,459.3 L693.8,487 M770.2,440 L770.2,470.7"/>
<path class="kd" d="M741,459.3 L770,455"/>
<!-- side grip -->
<path class="k" d="M712.8,490 L712.5,470.7 C712.5,467 713.5,465 715.5,464.1 L741,459.3"/>
<g stroke="#000" stroke-width="1">
<path d="M716.5,466 L716.5,488.5 M719.5,465.5 L719.5,488 M722.5,465 L722.5,487.5 M725.5,464.3 L725.5,487 M728.5,463.7 L728.5,486 M731.5,463 L731.5,485 M734.5,462.3 L734.5,482 M737.5,461.6 L737.5,478 M740.5,461 L740.5,476"/>
</g>
</g>
<g id="clip">
<path class="kd" d="M729,358.5 L761.2,350.7 L794.9,370.8 L761.2,378.7"/>
<path class="kd" d="M744.4,361.9 L762.3,357.4 L777,367.5 L762.3,372 Z"/>
<path d="M728.7,358.8 L761.2,378.7" stroke="#000" stroke-width="2" stroke-dasharray="1.2 0.6"/>
<path d="M730,361.5 L760,379.5" stroke="#000" stroke-width="0.8"/>
<path class="k" d="M728.7,368.6 L728.7,377.6"/>
<path class="kd" d="M728.7,377.6 L746.6,373"/>
<path class="k" d="M762.3,381 L762.3,397.8"/>
<path class="kd" d="M762.3,397.8 L794.9,390 L794.9,370.8"/>
</g>
</g>
</svg>
</body></html>
